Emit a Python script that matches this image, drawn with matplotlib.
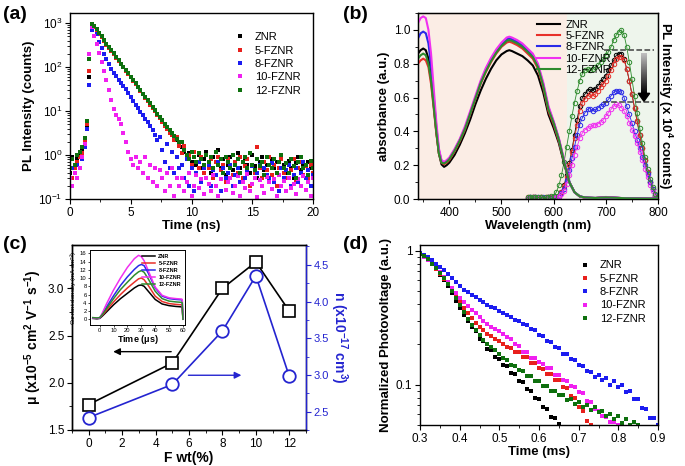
import numpy as np
import matplotlib
matplotlib.use('Agg')
import matplotlib.pyplot as plt
from matplotlib.ticker import MultipleLocator, LogLocator, FuncFormatter, NullFormatter
from matplotlib.patches import Polygon

plt.rcParams['font.family'] = ['Liberation Sans', 'DejaVu Sans']
plt.rcParams['mathtext.fontset'] = 'custom'
plt.rcParams['mathtext.rm'] = 'Liberation Sans'
plt.rcParams['mathtext.bf'] = 'Liberation Sans:bold'
plt.rcParams['mathtext.it'] = 'Liberation Sans:italic'

samples = ['ZNR', '5-FZNR', '8-FZNR', '10-FZNR', '12-FZNR']
col_a = ['#000000', '#e8201c', '#1c1cf0', '#f020f0', '#0e700e']
col_b = ['#000000', '#e8302a', '#2a2ae8', '#f030f0', '#2e8b2e']

# ---------------- (a) TRPL decay ----------------
t_a = np.round(np.arange(101) * 0.2, 1)   # 0 .. 20 ns
pl_znr = [0.4, 0.9, 0.6, 0.8, 1.0, 1.4, 2.0, 4.5, 60, 960,
          840, 700, 590, 490, 400, 330, 280, 240, 200, 170, 140, 118, 100, 84, 70, 60, 50, 42,
          35, 30, 25, 21, 17, 15, 12, 10, 8.5, 7.2, 6.0, 5.0, 4.3, 3.6, 3.0, 2.6, 2.2, 1.9,
          1.5, 1.2, 0.9, 1.1, 0.7, 0.9, 0.6, 1.0, 0.5, 0.8, 1.2,
          0.6, 0.4, 0.9, 0.7, 1.3, 0.5, 0.8, 0.35, 0.6, 0.9, 0.45,
          0.7, 1.1, 0.5, 0.3, 0.8, 0.6, 0.4, 1.0, 0.55, 0.3, 0.7,
          0.9, 0.45, 0.6, 0.25, 0.8, 0.5, 0.7, 0.35, 0.9, 0.6, 0.4,
          0.75, 0.5, 0.3, 0.65, 0.9, 0.45, 0.55, 0.3, 0.7, 0.5, 0.6]
pl_5 = [0.2, 0.3, 0.5, 0.7, 0.9, 1.1, 2.2, 5.0, 80, 930,
        820, 690, 580, 480, 395, 325, 275, 235, 195, 165, 138, 116, 98, 82, 69, 60, 49, 41,
        35, 29, 24, 20, 17, 14, 12, 9.8, 8.0, 7.0, 5.6, 4.6, 4.0, 3.2, 2.8, 2.2, 2.6, 1.6,
        1.1, 1.6, 0.8, 1.0, 0.6, 1.2, 0.7, 0.5, 0.9, 0.4, 1.0,
        0.5, 0.8, 0.3, 0.7, 0.9, 0.45, 0.6, 0.25, 0.8, 0.5, 0.35,
        0.7, 0.4, 0.9, 0.3, 0.55, 0.8, 0.2, 0.6, 0.4, 1.5, 0.5,
        0.3, 0.7, 0.45, 0.9, 0.35, 0.6, 0.2, 0.5, 0.8, 0.4, 0.3,
        0.6, 0.45, 0.8, 0.25, 0.5, 0.7, 0.35, 0.55, 0.3, 0.6, 0.4]
pl_8 = [0.3, 0.5, 0.4, 0.6, 0.5, 0.8, 1.5, 4.0, 40, 700,
        860, 560, 380, 270, 200, 150, 115, 92, 75, 62, 52, 44, 37, 31, 26, 21, 17, 14,
        11.5, 9.5, 8.0, 6.6, 5.5, 4.5, 3.7, 2.9, 2.2, 2.6, 1.3, 0.7, 1.8, 0.5, 1.2, 0.4, 0.9, 0.5,
        0.6, 0.3, 0.8, 0.2, 0.5, 0.15, 0.4, 0.7, 0.25, 0.5, 0.3,
        0.6, 0.2, 0.45, 0.35, 0.7, 0.15, 0.5, 0.3, 0.4, 0.6, 0.2,
        0.35, 0.5, 0.25, 0.7, 0.3, 0.45, 0.15, 0.55, 0.3, 0.4, 0.6,
        0.2, 0.5, 0.35, 0.3, 0.65, 0.25, 0.4, 0.15, 0.5, 0.3, 0.45,
        0.6, 0.2, 0.35, 0.5, 0.25, 0.4, 0.7, 0.3, 0.45, 0.2, 0.35]
pl_10 = [0.3, 0.2, 0.4, 0.3, 0.5, 0.9, 1.8, 6.0, 200, 820,
         520, 330, 210, 130, 80, 50, 30, 18, 11, 8, 6.5, 5.0, 3.2, 2.0, 1.2, 0.8, 0.6, 0.9,
         0.5, 0.7, 0.4, 0.9, 0.3, 0.6, 0.25, 0.5, 0.2, 0.45, 0.3, 0.15, 0.4, 0.2, 0.5, 0.12, 0.3, 0.2,
         0.3, 0.15, 0.25, 0.4, 0.12, 0.2, 0.35, 0.18, 0.28, 0.13, 0.3,
         0.22, 0.15, 0.35, 0.2, 0.12, 0.28, 0.4, 0.16, 0.25, 0.3, 0.14,
         0.2, 0.33, 0.12, 0.25, 0.18, 0.38, 0.15, 0.22, 0.3, 0.11, 0.27,
         0.2, 0.14, 0.32, 0.24, 0.17, 0.28, 0.12, 0.35, 0.2, 0.26, 0.15,
         0.3, 0.18, 0.22, 0.13, 0.28, 0.2, 0.34, 0.16, 0.25, 0.12, 0.3]
pl_12 = [0.5, 0.8, 0.6, 1.0, 1.2, 1.5, 2.4, 6.0, 150, 980,
         860, 720, 600, 500, 410, 340, 285, 240, 205, 172, 142, 120, 102, 86, 72, 61, 51, 43,
         36, 30, 25, 21, 18, 15, 12.5, 10.5, 8.8, 7.4, 6.2, 5.2, 4.4, 3.7, 3.1, 2.7, 2.3, 2.0,
         2.0, 1.3, 1.0, 0.8, 1.2, 0.9, 0.7, 1.1, 0.8, 0.6, 1.0,
         0.7, 0.9, 0.5, 1.2, 0.6, 0.8, 0.4, 0.9, 0.7, 0.5, 1.0,
         0.6, 0.8, 0.4, 0.7, 0.9, 0.5, 1.1, 0.6, 0.45, 0.8, 0.55,
         0.7, 0.35, 0.9, 0.6, 0.5, 0.8, 0.4, 0.7, 1.0, 0.5, 0.65,
         0.4, 0.8, 0.55, 0.3, 0.7, 0.9, 0.5, 0.6, 0.35, 0.75, 0.5]
pl_a = [pl_znr, pl_5, pl_8, pl_10, pl_12]

# ---------------- (b) absorbance + PL ----------------
wl_abs = [340, 345, 350, 355, 360, 365, 370, 375, 380, 385, 390, 395, 400,
          410, 420, 430, 440, 450, 460, 470, 480, 490, 500, 510, 515,
          520, 530, 540, 550, 560, 570, 580, 590, 600, 610, 620, 630, 640, 650, 660,
          680, 700, 720, 740, 760, 780, 800]
abs_znr = [0.86, 0.88, 0.89, 0.88, 0.83, 0.72, 0.56, 0.40, 0.27, 0.205, 0.19, 0.20, 0.215,
           0.26, 0.32, 0.39, 0.47, 0.56, 0.64, 0.71, 0.77, 0.82, 0.855, 0.875, 0.88,
           0.875, 0.86, 0.845, 0.82, 0.79, 0.73, 0.63, 0.50, 0.42, 0.33, 0.21, 0.10, 0.04, 0.015, 0.008,
           0.006, 0.01, 0.007, 0.004, 0.003, 0.002, 0.002]
abs_5 = [0.80, 0.82, 0.83, 0.82, 0.78, 0.68, 0.54, 0.39, 0.27, 0.215, 0.205, 0.215, 0.23,
         0.28, 0.34, 0.41, 0.50, 0.59, 0.68, 0.75, 0.81, 0.86, 0.90, 0.925, 0.93,
         0.925, 0.91, 0.89, 0.86, 0.83, 0.77, 0.66, 0.52, 0.44, 0.34, 0.22, 0.10, 0.04, 0.015, 0.008,
         0.006, 0.01, 0.007, 0.004, 0.003, 0.002, 0.002]
abs_8 = [0.95, 0.98, 0.99, 0.98, 0.92, 0.79, 0.61, 0.43, 0.29, 0.225, 0.215, 0.225, 0.24,
         0.29, 0.35, 0.42, 0.51, 0.60, 0.69, 0.765, 0.825, 0.875, 0.915, 0.945, 0.95,
         0.945, 0.93, 0.91, 0.88, 0.85, 0.79, 0.68, 0.54, 0.455, 0.355, 0.225, 0.10, 0.04, 0.016, 0.009,
         0.006, 0.01, 0.007, 0.004, 0.003, 0.002, 0.002]
abs_10 = [1.04, 1.07, 1.08, 1.07, 1.00, 0.86, 0.66, 0.46, 0.30, 0.23, 0.22, 0.23, 0.245,
          0.295, 0.355, 0.43, 0.52, 0.61, 0.70, 0.775, 0.835, 0.885, 0.925, 0.955, 0.96,
          0.955, 0.94, 0.92, 0.89, 0.86, 0.80, 0.69, 0.55, 0.46, 0.36, 0.23, 0.10, 0.04, 0.016, 0.009,
          0.006, 0.012, 0.008, 0.004, 0.003, 0.002, 0.002]
abs_12 = [0.83, 0.85, 0.86, 0.85, 0.80, 0.70, 0.55, 0.40, 0.27, 0.215, 0.21, 0.22, 0.235,
          0.285, 0.345, 0.415, 0.505, 0.595, 0.685, 0.755, 0.815, 0.865, 0.905, 0.935, 0.94,
          0.935, 0.92, 0.90, 0.87, 0.84, 0.78, 0.67, 0.53, 0.45, 0.35, 0.22, 0.10, 0.04, 0.016, 0.009,
          0.006, 0.01, 0.007, 0.004, 0.003, 0.002, 0.002]
abs_b = [abs_znr, abs_5, abs_8, abs_10, abs_12]

wl_pl = list(range(550, 801, 5))
plb_znr = [0.008, 0.01, 0.009, 0.01, 0.008, 0.009, 0.007, 0.008, 0.01, 0.008,
           0.005, 0.01, 0.02, 0.04, 0.08, 0.14, 0.21, 0.29, 0.38, 0.47, 0.55, 0.60, 0.62,
           0.64, 0.65, 0.645, 0.65, 0.67, 0.69, 0.71, 0.73, 0.76, 0.79, 0.82, 0.85, 0.86,
           0.86, 0.83, 0.77, 0.70, 0.62, 0.54, 0.46, 0.38, 0.30, 0.23, 0.16, 0.10, 0.06, 0.02, 0.005]
plb_5 = [0.009, 0.008, 0.01, 0.009, 0.008, 0.01, 0.008, 0.009, 0.01, 0.009,
         0.005, 0.01, 0.02, 0.04, 0.075, 0.13, 0.20, 0.28, 0.36, 0.44, 0.52, 0.57, 0.59,
         0.61, 0.62, 0.61, 0.62, 0.64, 0.66, 0.68, 0.70, 0.73, 0.76, 0.80, 0.83, 0.84,
         0.84, 0.82, 0.77, 0.70, 0.62, 0.54, 0.46, 0.38, 0.30, 0.23, 0.16, 0.10, 0.06, 0.02, 0.005]
plb_8 = [0.008, 0.009, 0.008, 0.01, 0.009, 0.008, 0.009, 0.008, 0.009, 0.008,
         0.005, 0.01, 0.02, 0.035, 0.06, 0.11, 0.17, 0.24, 0.31, 0.38, 0.44, 0.48, 0.51,
         0.53, 0.535, 0.52, 0.53, 0.54, 0.55, 0.56, 0.57, 0.59, 0.61, 0.63, 0.64, 0.64,
         0.63, 0.60, 0.55, 0.50, 0.45, 0.40, 0.35, 0.30, 0.25, 0.20, 0.15, 0.10, 0.06, 0.025, 0.005]
plb_10 = [0.007, 0.008, 0.009, 0.008, 0.007, 0.008, 0.008, 0.007, 0.008, 0.007,
          0.005, 0.01, 0.02, 0.03, 0.05, 0.09, 0.14, 0.20, 0.26, 0.31, 0.36, 0.39, 0.41,
          0.42, 0.43, 0.435, 0.44, 0.445, 0.455, 0.47, 0.49, 0.51, 0.53, 0.55, 0.56, 0.555,
          0.54, 0.52, 0.49, 0.45, 0.41, 0.37, 0.33, 0.28, 0.23, 0.18, 0.13, 0.085, 0.05, 0.02, 0.005]
plb_12 = [0.01, 0.012, 0.01, 0.011, 0.009, 0.01, 0.008, 0.01, 0.012, 0.015,
          0.02, 0.04, 0.08, 0.14, 0.22, 0.31, 0.40, 0.49, 0.57, 0.64, 0.70, 0.74, 0.76,
          0.77, 0.76, 0.77, 0.78, 0.79, 0.81, 0.83, 0.85, 0.87, 0.90, 0.94, 0.97, 0.99,
          1.0, 0.97, 0.90, 0.81, 0.71, 0.61, 0.51, 0.42, 0.33, 0.25, 0.18, 0.12, 0.07, 0.03, 0.01]
pl_b = [plb_znr, plb_5, plb_8, plb_10, plb_12]

# ---------------- (c) mobility / carrier density ----------------
F_wt = [0, 5, 8, 10, 12]
mobility = [1.77, 2.21, 3.00, 3.28, 2.76]
carrier_n = [2.42, 2.87, 3.60, 4.35, 2.98]

t_in = [-5, -2, 0, 2, 5, 10, 15, 20, 25, 28, 30, 32, 35, 40, 45, 50, 55, 59, 59.5, 60]
cd_znr = [0.2, 0.1, 0.2, 0.8, 1.8, 3.5, 5.0, 6.3, 7.6, 8.2, 8.3, 8.0, 6.8, 4.8, 3.7, 3.3, 3.1, 3.0, 2.9, 0]
cd_5 = [0.3, 0.2, 0.3, 1.0, 2.2, 4.2, 6.0, 7.6, 9.0, 9.8, 10.0, 9.6, 8.2, 5.6, 4.3, 3.8, 3.6, 3.5, 3.4, 0]
cd_8 = [0.3, 0.2, 0.3, 1.3, 3.0, 5.7, 8.2, 10.3, 12.1, 13.0, 13.3, 13.0, 11.2, 7.6, 5.6, 5.0, 4.8, 4.7, 4.6, 0]
cd_10 = [0.3, 0.2, 0.3, 1.6, 3.8, 7.1, 10.0, 12.6, 14.7, 15.5, 15.2, 14.2, 11.8, 7.8, 5.8, 5.2, 5.0, 4.9, 4.8, 0]
cd_12 = [0.4, 0.3, 0.4, 1.2, 2.6, 5.0, 7.2, 9.0, 10.7, 11.5, 11.8, 11.4, 9.8, 6.8, 5.0, 4.4, 4.2, 4.1, 4.0, 0]
cd_in = [cd_znr, cd_5, cd_8, cd_10, cd_12]

# ---------------- (d) photovoltage decay ----------------
t_d = np.round(0.30 + np.arange(61) * 0.01, 2)
pv_znr = [0.95, 0.91, 0.86, 0.80, 0.73, 0.66, 0.60, 0.54, 0.48, 0.42, 0.37, 0.33, 0.30, 0.27,
          0.25, 0.22, 0.21, 0.185, 0.18, 0.16, 0.155, 0.14, 0.138, 0.122, 0.12, 0.106, 0.105,
          0.092, 0.09, 0.079, 0.078, 0.068, 0.066, 0.057, 0.056, 0.051]
pv_5 = [0.94, 0.90, 0.85, 0.79, 0.73, 0.67, 0.61, 0.56, 0.50, 0.45, 0.41, 0.37, 0.34, 0.315,
        0.29, 0.27, 0.255, 0.24, 0.23, 0.22, 0.21, 0.20, 0.19, 0.186, 0.176, 0.174, 0.162,
        0.16, 0.146, 0.145, 0.132, 0.13, 0.12, 0.12, 0.108, 0.108, 0.096, 0.094, 0.082,
        0.08, 0.068, 0.064, 0.054, 0.05]
pv_8 = [0.96, 0.93, 0.89, 0.85, 0.80, 0.76, 0.71, 0.67, 0.62, 0.58, 0.54, 0.51, 0.49, 0.47,
        0.45, 0.43, 0.41, 0.39, 0.38, 0.37, 0.355, 0.34, 0.33, 0.32, 0.305, 0.30, 0.283,
        0.28, 0.258, 0.255, 0.236, 0.232, 0.212, 0.208, 0.19, 0.188, 0.17, 0.168, 0.155,
        0.152, 0.14, 0.138, 0.126, 0.124, 0.114, 0.118, 0.108, 0.112, 0.1, 0.107, 0.096,
        0.1, 0.088, 0.09, 0.078, 0.078, 0.067, 0.066, 0.056, 0.056, 0.05]
pv_10 = [0.94, 0.90, 0.85, 0.80, 0.74, 0.69, 0.63, 0.58, 0.53, 0.48, 0.44, 0.41, 0.385, 0.36,
         0.34, 0.32, 0.30, 0.285, 0.27, 0.26, 0.25, 0.24, 0.225, 0.218, 0.2, 0.195, 0.176,
         0.175, 0.158, 0.158, 0.147, 0.142, 0.132, 0.132, 0.118, 0.118, 0.108, 0.106, 0.098,
         0.096, 0.088, 0.086, 0.076, 0.074, 0.066, 0.064, 0.058, 0.057, 0.053, 0.053, 0.05]
pv_12 = [0.95, 0.91, 0.86, 0.80, 0.74, 0.68, 0.62, 0.56, 0.50, 0.44, 0.39, 0.35, 0.31, 0.28,
         0.255, 0.235, 0.215, 0.20, 0.19, 0.18, 0.17, 0.158, 0.152, 0.14, 0.138, 0.128,
         0.126, 0.116, 0.115, 0.106, 0.106, 0.098, 0.097, 0.09, 0.09, 0.083, 0.084, 0.077,
         0.078, 0.072, 0.074, 0.068, 0.071, 0.065, 0.068, 0.062, 0.064, 0.058, 0.06, 0.055,
         0.058, 0.052, 0.055, 0.05, 0.053, 0.05]
pv_d = [pv_znr, pv_5, pv_8, pv_10, pv_12]

# ================= figure =================
W, H = 685, 466
fig = plt.figure(figsize=(W / 100, H / 100), dpi=100)

def frac(l, t, r, b):
    return [l / W, 1 - b / H, (r - l) / W, (b - t) / H]

TICK = 8.5
LAB = 9.5

def style(ax):
    ax.tick_params(which='major', direction='out', length=3.5, width=0.8, labelsize=TICK, pad=2)
    ax.tick_params(which='minor', direction='out', length=2, width=0.6)
    for s in ax.spines.values():
        s.set_linewidth(1.0)

# ---- (a)
ax_a = fig.add_axes(frac(70, 13, 313, 199))
for vals, c, lab in zip(pl_a, col_a, samples):
    ax_a.plot(t_a, vals, 's', ms=2.5, mew=0, color=c, label=lab)
ax_a.set_yscale('log')
ax_a.set_xlim(0, 20)
ax_a.set_ylim(0.1, 1700)
ax_a.xaxis.set_major_locator(MultipleLocator(5))
ax_a.xaxis.set_minor_locator(MultipleLocator(2.5))
ax_a.yaxis.set_major_locator(LogLocator(base=10, numticks=10))
ax_a.yaxis.set_minor_locator(LogLocator(base=10, subs=np.arange(2, 10), numticks=10))
ax_a.yaxis.set_minor_formatter(NullFormatter())
style(ax_a)
ax_a.set_xlabel('Time (ns)', fontsize=LAB, fontweight='bold', labelpad=1)
ax_a.set_ylabel('PL Intensity (counts)', fontsize=LAB, fontweight='bold', labelpad=2)
ax_a.legend(loc='upper right', bbox_to_anchor=(0.99, 0.95), frameon=False, fontsize=8,
            markerscale=1.1, handletextpad=0.8, labelspacing=0.3, handlelength=1.0)

# ---- (b)
ax_b = fig.add_axes(frac(418, 13, 658, 199))
ax_b.axvspan(340, 625, color='#fbede5', zorder=0, lw=0)
ax_b.axvspan(625, 800, color='#eef5ec', zorder=0, lw=0)
for vals, c, lab in zip(abs_b, col_b, samples):
    ax_b.plot(wl_abs, vals, '-', color=c, lw=1.5, label=lab, zorder=3)
for vals, c in zip(pl_b, col_b):
    ax_b.plot(wl_pl, vals, '-', color=c, lw=0.6, zorder=2)
    ax_b.plot(wl_pl, vals, 'o', color=c, mfc='none', ms=3.2, mew=0.7, zorder=2)
ax_b.plot([697, 792], [0.88, 0.88], '--', color='#404040', lw=1.1, zorder=4)
ax_b.plot([695, 792], [0.575, 0.575], '--', color='#404040', lw=1.1, zorder=4)
grad = np.linspace(0.75, 0.0, 60).reshape(-1, 1)
ax_b.imshow(grad, extent=[768, 778, 0.62, 0.86], cmap='gray', vmin=0, vmax=1,
            aspect='auto', zorder=5)
ax_b.add_patch(Polygon([(762, 0.625), (784, 0.625), (773, 0.578)], closed=True,
                       color='black', zorder=5))
ax_b.set_xlim(340, 800)
ax_b.set_ylim(0, 1.1)
ax_b.xaxis.set_major_locator(MultipleLocator(100))
ax_b.xaxis.set_minor_locator(MultipleLocator(50))
ax_b.yaxis.set_major_locator(MultipleLocator(0.2))
ax_b.yaxis.set_minor_locator(MultipleLocator(0.1))
ax_b.yaxis.set_major_formatter(FuncFormatter(lambda v, p: f'{v:.1f}'))
style(ax_b)
ax_b.set_xlabel('Wavelength (nm)', fontsize=LAB, fontweight='bold', labelpad=1)
ax_b.set_ylabel('absorbance (a.u.)', fontsize=LAB, fontweight='bold', labelpad=3)
ax_b.legend(loc='upper left', bbox_to_anchor=(0.47, 1.0), frameon=False, fontsize=8,
            handlelength=2.0, handletextpad=0.5, labelspacing=0.12, borderaxespad=0.2)
ax_b2 = ax_b.twinx()
ax_b2.set_ylim(0, 1.1)
ax_b2.set_yticks([])
ax_b2.set_ylabel(r'PL Intensity (x 10$^{\mathbf{4}}$ counts)', fontsize=LAB, fontweight='bold',
                 rotation=270, labelpad=12)

# ---- (c)
blue = '#2424d0'
ax_c = fig.add_axes(frac(72, 245, 306, 430))
ax_c.plot(F_wt, mobility, '-', color='black', lw=1.2, marker='s', ms=8, mfc='white',
          mec='black', mew=1.2, zorder=3)
ax_c.set_xlim(-1, 13)
ax_c.set_ylim(1.5, 3.46)
ax_c.xaxis.set_major_locator(MultipleLocator(2))
ax_c.xaxis.set_minor_locator(MultipleLocator(1))
ax_c.yaxis.set_major_locator(MultipleLocator(0.5))
ax_c.yaxis.set_minor_locator(MultipleLocator(0.25))
ax_c.yaxis.set_major_formatter(FuncFormatter(lambda v, p: f'{v:.1f}'))
style(ax_c)
ax_c.set_xlabel('F wt(%)', fontsize=LAB + 0.5, fontweight='bold', labelpad=1)
ax_c.set_ylabel(r'$\mathbf{\mu}$ (x10$^{\mathbf{-5}}$ cm$^{\mathbf{2}}$ V$^{\mathbf{-1}}$ s$^{\mathbf{-1}}$)',
                fontsize=LAB + 0.5, fontweight='bold', labelpad=3)
ax_c.annotate('', xy=(1.3, 2.33), xytext=(5.1, 2.33),
              arrowprops=dict(arrowstyle='-|>', color='black', lw=1.0, mutation_scale=10))
ax_c.annotate('', xy=(9.3, 2.08), xytext=(5.8, 2.08),
              arrowprops=dict(arrowstyle='-|>', color=blue, lw=1.0, mutation_scale=10))
ax_c2 = ax_c.twinx()
ax_c2.plot(F_wt, carrier_n, '-', color=blue, lw=1.2, marker='o', ms=9, mfc='white',
           mec=blue, mew=1.3, zorder=3)
ax_c2.set_ylim(2.25, 4.77)
ax_c2.yaxis.set_major_locator(MultipleLocator(0.5))
ax_c2.yaxis.set_minor_locator(MultipleLocator(0.25))
ax_c2.yaxis.set_major_formatter(FuncFormatter(lambda v, p: f'{v:.1f}'))
style(ax_c2)
ax_c2.tick_params(axis='y', which='both', colors=blue, labelsize=8)
ax_c2.spines['right'].set_color(blue)
ax_c2.set_ylabel(r'n (x10$^{\mathbf{-17}}$ cm$^{\mathbf{3}}$)', color=blue, fontsize=LAB + 0.5,
                 fontweight='bold', rotation=270, labelpad=15)

# inset
ax_in = fig.add_axes(frac(90, 250, 185, 325))
for vals, c, lab in zip(cd_in, col_b, samples):
    ax_in.plot(t_in, vals, '-', color=c, lw=1.1, label=lab)
ax_in.set_xlim(-7, 61.5)
ax_in.set_ylim(-1.4, 16.8)
ax_in.xaxis.set_major_locator(MultipleLocator(10))
ax_in.yaxis.set_major_locator(MultipleLocator(2))
ax_in.tick_params(which='major', direction='out', length=1.5, width=0.5, labelsize=4.2, pad=1)
for s in ax_in.spines.values():
    s.set_linewidth(0.7)
ax_in.set_xlabel(r'Time ($\mathbf{\mu}$s)', fontsize=6.5, fontweight='bold', labelpad=0)
ax_in.set_ylabel(r'Current density (mA cm$^{-2}$)', fontsize=4.5, labelpad=0.5)
ax_in.legend(loc='upper right', frameon=False, prop={'size': 4, 'weight': 'bold'},
             handlelength=2.4, handletextpad=0.6, labelspacing=0.35, borderaxespad=0.3)

# ---- (d)
ax_d = fig.add_axes(frac(420, 245, 658, 425))
for vals, c, lab in zip(pv_d, col_a, samples):
    ax_d.plot(t_d[:len(vals)], vals, 's', ms=3.0, mew=0, color=c, label=lab)
ax_d.set_yscale('log')
ax_d.set_xlim(0.3, 0.9)
ax_d.set_ylim(0.05, 1.1)
ax_d.xaxis.set_major_locator(MultipleLocator(0.1))
ax_d.xaxis.set_minor_locator(MultipleLocator(0.05))
ax_d.xaxis.set_major_formatter(FuncFormatter(lambda v, p: f'{v:.1f}'))
ax_d.yaxis.set_major_locator(LogLocator(base=10, numticks=10))
ax_d.yaxis.set_minor_locator(LogLocator(base=10, subs=np.arange(2, 10), numticks=10))
ax_d.yaxis.set_major_formatter(FuncFormatter(lambda v, p: '1' if abs(v - 1) < 1e-9 else f'{v:g}'))
ax_d.yaxis.set_minor_formatter(NullFormatter())
style(ax_d)
ax_d.set_xlabel('Time (ms)', fontsize=LAB, fontweight='bold', labelpad=1)
ax_d.set_ylabel('Normalized Photovoltage (a.u.)', fontsize=LAB, fontweight='bold', labelpad=3)
ax_d.legend(loc='upper right', bbox_to_anchor=(0.99, 0.97), frameon=False, fontsize=8,
            markerscale=1.0, handletextpad=0.8, labelspacing=0.3, handlelength=1.0)

# panel labels
for x, y, s in [(3, 6, '(a)'), (343, 6, '(b)'), (3, 236, '(c)'), (343, 236, '(d)')]:
    fig.text(x / W, 1 - y / H, s, fontsize=14, fontweight='bold', va='top', ha='left')

fig.savefig('out.png', dpi=100)
